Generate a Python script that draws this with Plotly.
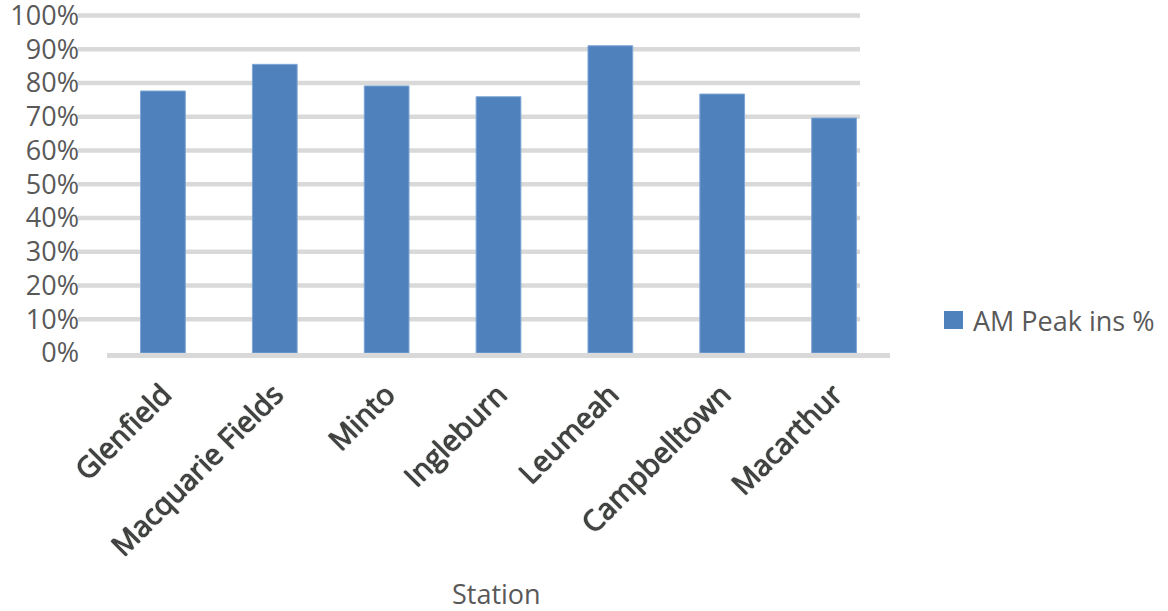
import plotly.graph_objects as go

# AM peak share by station
stations = ["Glenfield", "Macquarie Fields", "Minto", "Ingleburn",
            "Leumeah", "Campbelltown", "Macarthur"]
am_peak_pct = [77.6, 85.5, 79.1, 75.9, 91.0, 76.7, 69.6]
y_ticks = [0, 10, 20, 30, 40, 50, 60, 70, 80, 90, 100]
y_tick_text = [f"{v}%" for v in y_ticks]
series_name = "AM Peak ins %"
x_title = "Station"

W, H = 1168, 611
L, R, T, B = 107, 278, 12, 258
plot_w = W - L - R
plot_h = H - T - B
Y_MAX = 101


def px_x(px):
    return (px - L) / plot_w


def px_y(py):
    return (H - B - py) / plot_h


GRID = "#d9d9d9"
TEXT = "#595959"
BAR = "#4f81bd"
FONT = "Open Sans, Noto Sans, sans-serif"

fig = go.Figure()
fig.add_trace(go.Bar(
    x=stations, y=am_peak_pct, name=series_name,
    marker=dict(color=BAR, line=dict(color="#7ea6d6", width=1)),
    showlegend=False,
))

# horizontal gridlines, offset slightly left of the plot area
shapes = []
for v in y_ticks[1:]:
    shapes.append(dict(type="line", xref="paper", yref="y",
                       x0=px_x(78), x1=px_x(860), y0=v, y1=v,
                       line=dict(color=GRID, width=4.5), layer="below"))

# legend swatch
shapes.append(dict(type="rect", xref="paper", yref="paper",
                   x0=px_x(944), x1=px_x(963), y0=px_y(329), y1=px_y(311),
                   fillcolor=BAR, line=dict(width=0)))

annotations = [
    dict(text=series_name, xref="paper", yref="paper", x=px_x(971), y=px_y(320),
         xanchor="left", yanchor="middle", showarrow=False,
         font=dict(family=FONT, size=27, color=TEXT)),
    dict(text=x_title, xref="paper", yref="paper", x=px_x(496), y=px_y(593),
         xanchor="center", yanchor="middle", showarrow=False,
         font=dict(family=FONT, size=27, color=TEXT)),
]

fig.update_layout(
    width=W, height=H,
    margin=dict(l=L, r=R, t=T, b=B, pad=0, autoexpand=False),
    paper_bgcolor="white", plot_bgcolor="white",
    bargap=0.6,
    shapes=shapes,
    annotations=annotations,
    showlegend=False,
)
fig.update_xaxes(
    showgrid=False, zeroline=False, automargin=False,
    showline=True, linecolor=GRID, linewidth=5, layer="below traces",
    ticks="", tickangle=-45, ticklabelstandoff=8,
    tickfont=dict(family=FONT, size=29, color="#454545",
                  shadow="0 0 1px #000, 0 0 1px #000"),
)
fig.update_yaxes(
    range=[0, Y_MAX], showgrid=False, zeroline=False, showline=False,
    automargin=False,
    tickmode="array", tickvals=y_ticks, ticktext=y_tick_text,
    ticks="", ticklabelstandoff=27, ticklabeloverflow="allow",
    tickfont=dict(family=FONT, size=27, color=TEXT),
)

fig.write_html("out.html")
